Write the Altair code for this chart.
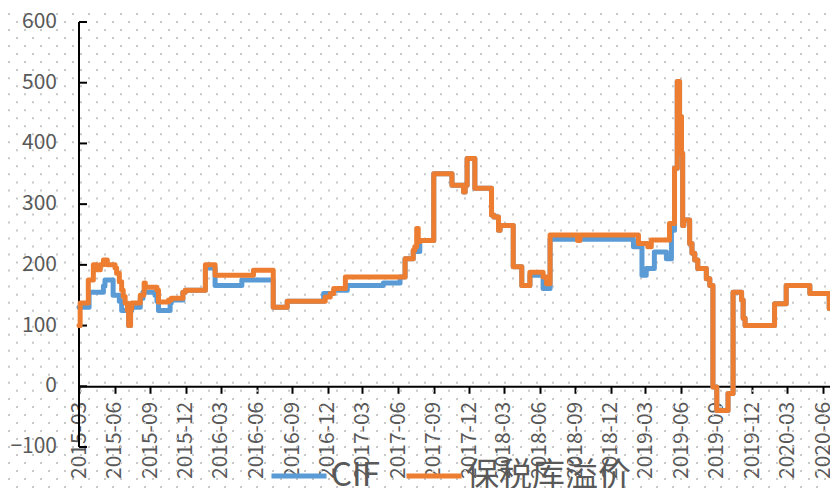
import altair as alt
import pandas as pd

# ---- data ----
series_names = ["CIF", "保税库溢价"]
series_colors = ["#5B9BD5", "#ED7D31"]

cif_dates = [
    "2015-03-01", "2015-03-27", "2015-05-03", "2015-05-07", "2015-05-28", "2015-06-13",
    "2015-06-19", "2015-07-07", "2015-07-12", "2015-07-15", "2015-08-06", "2015-08-13",
    "2015-09-13", "2015-09-18", "2015-09-22", "2015-10-22", "2015-10-25", "2015-11-24",
    "2015-11-30", "2016-01-21", "2016-02-15", "2016-04-24", "2016-07-14", "2016-08-19",
    "2016-11-21", "2016-12-17", "2017-01-21", "2017-04-24", "2017-06-06", "2017-06-19",
    "2017-07-10", "2017-07-27", "2017-09-01", "2017-10-18", "2017-11-17", "2017-11-21",
    "2017-11-26", "2017-12-16", "2018-01-28", "2018-02-03", "2018-02-15", "2018-02-19",
    "2018-03-25", "2018-04-16", "2018-05-07", "2018-06-10", "2018-06-28", "2019-01-29",
    "2019-02-20", "2019-03-03", "2019-03-24", "2019-04-24", "2019-05-07", "2019-05-15",
    "2019-05-22", "2019-05-28", "2019-06-02", "2019-06-05", "2019-06-08", "2019-06-23",
    "2019-06-29", "2019-07-06", "2019-07-14", "2019-08-05", "2019-08-14", "2019-08-22",
    "2019-09-01", "2019-09-30", "2019-10-13", "2019-11-04", "2019-11-08", "2019-11-13",
    "2020-01-28", "2020-02-27", "2020-04-28", "2020-06-17", "2020-06-19",
]
cif_values = [
    130, 155, 165, 175, 150, 140,
    125, 100, 125, 130, 145, 155,
    150, 140, 125, 137, 142, 155,
    158, 195, 166, 175, 130, 140,
    153, 158, 166, 170, 180, 210,
    222, 240, 350, 331, 320, 331,
    375, 326, 282, 279, 257, 265,
    197, 166, 183, 161, 242, 230,
    183, 194, 221, 210, 257, 359,
    502, 444, 384, 265, 274, 235,
    219, 208, 194, 177, 166, -1,
    -40, -12, 155, 142, 112, 100,
    136, 166, 153, 128, 128,
]

prem_dates = [
    "2015-03-01", "2015-03-04", "2015-03-25", "2015-04-07", "2015-04-16", "2015-04-25",
    "2015-05-03", "2015-05-13", "2015-06-02", "2015-06-06", "2015-06-13", "2015-06-19",
    "2015-06-23", "2015-06-28", "2015-07-04", "2015-07-07", "2015-07-12", "2015-07-15",
    "2015-08-06", "2015-08-15", "2015-08-16", "2015-08-19", "2015-09-18", "2015-09-22",
    "2015-10-18", "2015-10-25", "2015-11-24", "2015-11-30", "2016-01-21", "2016-02-15",
    "2016-05-24", "2016-07-14", "2016-08-19", "2016-11-25", "2016-12-08", "2016-12-17",
    "2017-01-16", "2017-06-19", "2017-07-10", "2017-07-14", "2017-07-19", "2017-07-23",
    "2017-07-27", "2017-09-01", "2017-10-18", "2017-11-17", "2017-11-21", "2017-11-26",
    "2017-12-16", "2018-01-28", "2018-02-03", "2018-02-15", "2018-02-19", "2018-03-25",
    "2018-04-16", "2018-05-07", "2018-06-10", "2018-06-19", "2018-06-28", "2018-09-07",
    "2018-09-13", "2019-02-11", "2019-03-07", "2019-03-16", "2019-05-02", "2019-05-15",
    "2019-05-22", "2019-05-28", "2019-06-02", "2019-06-05", "2019-06-08", "2019-06-23",
    "2019-06-29", "2019-07-06", "2019-07-14", "2019-08-05", "2019-08-14", "2019-08-22",
    "2019-09-01", "2019-09-30", "2019-10-13", "2019-11-04", "2019-11-08", "2019-11-13",
    "2020-01-28", "2020-02-27", "2020-04-28", "2020-06-17", "2020-06-19",
]
prem_values = [
    100, 137, 175, 200, 192, 200,
    208, 200, 195, 186, 172, 158,
    148, 137, 125, 100, 128, 137,
    150, 153, 170, 163, 158, 139,
    142, 145, 155, 158, 200, 183,
    191, 130, 140, 147, 153, 161,
    180, 210, 224, 230, 260, 238,
    240, 350, 331, 320, 331, 375,
    326, 282, 279, 257, 265, 197,
    166, 188, 180, 169, 249, 240,
    249, 235, 230, 241, 268, 359,
    502, 444, 384, 265, 274, 235,
    219, 208, 194, 177, 166, -1,
    -40, -12, 155, 142, 112, 100,
    136, 166, 153, 128, 128,
]

y_ticks = [-100, 0, 100, 200, 300, 400, 500, 600]
x_tick_years_months = [(2015 + (2 + 3 * i) // 12, (2 + 3 * i) % 12 + 1) for i in range(22)]

# ---- build tables ----
df = pd.concat([
    pd.DataFrame({"date": cif_dates, "value": cif_values, "series": series_names[0]}),
    pd.DataFrame({"date": prem_dates, "value": prem_values, "series": series_names[1]}),
], ignore_index=True)
ticks_df = pd.DataFrame({"value": y_ticks})

FONT = "Noto Sans CJK SC"
TEXT = "#595959"
Y_MIN, Y_MAX = -100, 600
PLOT_W, PLOT_H = 751, 425
PAD = {"left": 71, "top": 14, "right": 0, "bottom": 41}
N_ROWS = 53  # rows of the dotted background pattern inside the plot
ROW = (Y_MAX - Y_MIN) / N_ROWS

domain_df = pd.DataFrame({"top": [Y_MAX], "bottom": [Y_MIN]})

# background dot pattern rows (styling only), extended over the whole canvas
dot_rows = pd.DataFrame({"k": list(range(-5, N_ROWS + 2))})
dot_rows["gy"] = Y_MIN + dot_rows["k"] * ROW
dot_rows["odd"] = dot_rows["k"] % 2

x_scale = alt.Scale(
    type="utc",
    domain=[alt.DateTime(year=2015, month=3, date=1, utc=True),
            alt.DateTime(year=2020, month=6, date=19, utc=True)],
)
x_axis = alt.Axis(
    values=[alt.DateTime(year=y, month=m, date=1, utc=True) for y, m in x_tick_years_months],
    format="%Y-%m",
    labelAngle=-90,
    labelFlush=False,
    labelOverlap=False,
    offset=-(0 - Y_MIN) * PLOT_H / (Y_MAX - Y_MIN),
    grid=False,
    domainColor="black",
    domainWidth=2,
    tickColor="black",
    tickWidth=2,
    tickSize=7,
    labelPadding=8,
    labelFontSize=21,
    labelColor=TEXT,
    labelFont=FONT,
    title=None,
)
y_scale = alt.Scale(domain=[Y_MIN, Y_MAX], nice=False, zero=False)
color = alt.Color(
    "series:N",
    scale=alt.Scale(domain=series_names, range=series_colors),
    legend=alt.Legend(
        orient="none",
        legendX=190,
        legendY=424,
        direction="horizontal",
        title=None,
        symbolType="stroke",
        symbolSize=3025,
        symbolStrokeWidth=5,
        labelFontSize=33,
        labelFont=FONT,
        labelColor=TEXT,
        labelLimit=0,
        labelOffset=2,
        columnPadding=16,
        padding=0,
    ),
)

def dot_layer(parity, offset):
    return alt.Chart(dot_rows).transform_filter(alt.datum.odd == parity).mark_rule(
        color="#c8c8c8", strokeWidth=2, strokeDash=[2, 14], strokeDashOffset=offset
    ).encode(
        y=alt.Y("gy:Q", scale=y_scale, axis=None),
        x=alt.value(-PAD["left"]),
        x2=alt.value(PLOT_W + PAD["right"]),
    )

dots_even = dot_layer(0, 0)
dots_odd = dot_layer(1, 8)

base = alt.Chart(df).mark_line(
    interpolate="step-after", strokeWidth=5, strokeJoin="round", strokeCap="round"
).encode(
    x=alt.X("date:T", scale=x_scale, axis=x_axis),
    y=alt.Y("value:Q", scale=y_scale, axis=None),
    color=color,
)
cif_line = base.transform_filter(alt.datum.series == series_names[0])
prem_line = base.transform_filter(alt.datum.series == series_names[1])

# y axis drawn from the tick list: domain line, inward ticks, labels
y_domain = alt.Chart(domain_df).mark_rule(color="black", strokeWidth=2).encode(
    y=alt.Y("top:Q", scale=y_scale, axis=None),
    y2="bottom:Q",
    x=alt.value(0),
)
inner_ticks = alt.Chart(ticks_df).mark_rule(color="black", strokeWidth=2).encode(
    y=alt.Y("value:Q", scale=y_scale, axis=None),
    x=alt.value(0),
    x2=alt.value(8),
)
y_labels = alt.Chart(ticks_df).mark_text(
    align="right", baseline="middle", fontSize=21, font=FONT, color=TEXT
).encode(
    y=alt.Y("value:Q", scale=y_scale, axis=None),
    x=alt.value(-22),
    text=alt.Text("value:Q", format="d"),
)

chart = alt.layer(
    dots_even, dots_odd, y_domain, inner_ticks, y_labels, cif_line, prem_line
).properties(
    width=PLOT_W,
    height=PLOT_H,
    autosize=alt.AutoSizeParams(type="none"),
    padding=PAD,
    background="white",
).configure(font=FONT).configure_view(strokeWidth=0)

chart.save("out.html", embed_options={"renderer": "svg", "actions": False})
